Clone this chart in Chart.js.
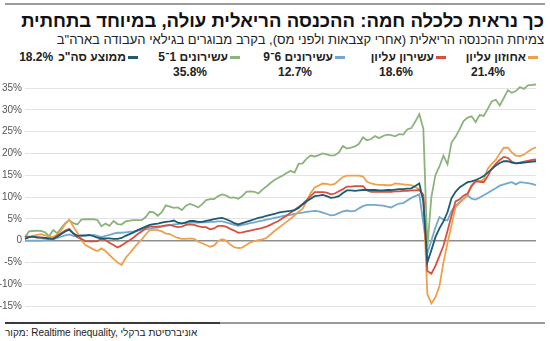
<!DOCTYPE html>
<html lang="he">
<head>
<meta charset="utf-8">
<script src="https://cdn.jsdelivr.net/npm/chart.js@4"></script>
<style>
  html, body { margin: 0; padding: 0; background: #fff; }
  body { width: 550px; height: 341px; position: relative; overflow: hidden;
         font-family: "Liberation Sans", "DejaVu Sans", sans-serif; color: #1a1a1a; }
  .rule-top { position: absolute; left: 5px; top: 3px; width: 540px; height: 2px; background: #9c9c9c; }
  .title { position: absolute; right: 6px; top: 10px; direction: rtl; white-space: nowrap;
           font-weight: bold; font-size: 18.5px; line-height: 22px; color: #111; }
  .subtitle { position: absolute; right: 6px; top: 32px; direction: rtl; white-space: nowrap;
              font-size: 13px; line-height: 16px; color: #222; }
  .lg { position: absolute; top: 50px; direction: rtl; display: flex; align-items: center;
        white-space: nowrap; font-weight: bold; font-size: 12px; line-height: 14px; color: #222; }
  .sw { width: 10px; height: 3px; margin-left: 2px; }
  .pct2 { position: absolute; direction: rtl; white-space: nowrap;
          font-weight: bold; font-size: 12px; line-height: 14px; color: #222; }
  #c { position: absolute; left: 0; top: 78px; }
  .rule-bot-a { position: absolute; left: 5px; top: 322px; width: 215px; height: 2px; background: #3a3a3a; }
  .rule-bot-b { position: absolute; left: 220px; top: 322px; width: 325px; height: 2px; background: #9a9a9a; }
  .source { position: absolute; left: 5px; top: 327px; direction: ltr; white-space: nowrap;
            font-size: 10px; line-height: 12px; color: #222; }
</style>
</head>
<body>
<div class="rule-top"></div>
<div class="title">כך נראית כלכלה חמה: ההכנסה הריאלית עולה, במיוחד בתחתית</div>
<div class="subtitle">צמיחת ההכנסה הריאלית (אחרי קצבאות ולפני מס), בקרב מבוגרים בגילאי העבודה בארה"ב</div>
<div id="legend"></div>
<canvas id="c" width="550" height="242"></canvas>
<div class="rule-bot-a"></div>
<div class="rule-bot-b"></div>
<div class="source">מקור: Realtime inequality, אוניברסיטת ברקלי</div>

<script>
// Monthly real income growth (%), relative to the start of the period
const months = Array.from({ length: 128 }, (_, i) => i + 1);

const top1 = [0.5,0.8,1.1,1.3,1.5,1.2,0.9,0.8,1.4,2.4,
  3.8,4.8,3.2,1.8,0.2,-1.0,-1.5,-2.0,-2.4,-1.8,
  -2.4,-3.3,-4.2,-5.0,-5.6,-4.0,-2.9,-1.8,-0.7,0.3,
  1.4,2.4,2.4,2.4,2.1,1.6,1.5,1.0,0.6,0.4,
  0.4,0.5,0.4,-0.2,-0.6,-1.0,-1.4,-1.1,-0.1,0.3,
  0.0,-0.9,-1.5,-1.7,-1.6,-1.0,-0.4,-0.1,0.1,0.3,
  0.6,1.4,2.2,2.9,3.6,4.3,5.0,5.8,6.6,7.3,
  9.0,10.9,12.2,12.6,13.1,13.0,12.8,13.0,13.8,14.6,
  14.9,14.9,14.9,14.9,14.7,13.5,13.1,12.9,12.8,12.8,
  12.7,12.7,13.1,13.0,12.9,12.8,12.7,12.3,11.8,10.0,
  -12.3,-14.4,-13.0,-10.5,-5.0,-0.6,3.5,7.7,8.6,9.5,
  10.5,12.7,13.8,13.6,14.0,16.5,17.6,18.5,20.0,21.3,
  21.3,20.2,19.5,19.4,19.7,20.4,21.0,21.4];

const top10 = [0.9,0.9,0.9,0.8,0.7,0.6,0.4,0.4,1.1,1.7,
  2.3,2.7,1.6,0.8,0.4,-0.1,-0.2,-0.2,-0.1,0.4,
  0.1,-0.5,-1.0,-1.6,-1.1,-0.5,0.1,0.7,1.5,2.1,
  2.9,3.2,3.2,3.2,3.3,3.5,3.6,3.3,3.1,3.2,
  3.6,3.7,3.6,3.3,3.1,3.1,2.6,2.8,3.4,3.4,
  3.2,2.7,2.3,1.8,1.9,2.1,2.3,2.5,2.7,2.9,
  3.2,3.6,4.1,4.5,5.1,5.7,6.4,7.0,7.7,8.4,
  9.3,10.2,11.1,11.1,11.1,11.0,10.6,10.8,11.3,11.8,
  12.4,12.4,12.5,12.5,12.5,11.5,11.2,11.2,11.2,11.2,
  11.2,11.2,11.3,11.3,11.4,11.4,11.5,11.5,11.6,10.5,
  -7.0,-7.6,-5.8,-3.5,-1.2,2.2,5.7,9.0,9.5,10.3,
  10.8,12.5,13.6,13.5,13.4,14.8,16.5,17.6,18.5,19.2,
  19.0,18.1,17.7,17.9,18.1,18.3,18.5,18.6];

const dec6to9 = [0.0,0.0,0.0,0.0,0.0,0.1,0.2,0.3,0.6,0.9,
  1.2,1.4,1.1,0.9,1.0,1.1,1.2,1.3,1.1,0.8,
  1.1,1.3,1.6,1.8,1.8,1.9,2.0,2.1,2.3,2.4,
  2.6,2.7,2.9,3.0,3.2,3.4,3.5,3.7,3.8,4.0,
  4.0,4.1,4.1,4.1,4.2,4.2,4.3,4.3,4.4,4.4,
  4.2,3.9,3.6,3.4,3.6,3.8,4.0,4.2,4.4,4.6,
  4.8,5.0,5.2,5.4,5.6,5.8,5.9,6.1,6.3,6.4,
  6.6,6.7,6.8,6.7,6.4,6.1,5.8,5.9,6.3,6.7,
  6.9,6.7,6.8,7.4,7.9,8.2,8.2,8.2,8.1,8.0,
  7.8,7.6,8.1,8.5,8.6,9.2,9.8,10.2,10.6,4.0,
  -2.9,0.0,3.0,5.4,4.8,4.6,6.8,8.0,8.8,9.6,
  10.4,9.6,9.4,9.9,10.4,10.9,11.5,12.0,12.6,12.9,
  13.2,13.4,12.9,13.4,13.3,13.2,13.0,12.7];

const dec1to5 = [0.8,2.1,2.2,2.3,2.2,1.9,1.0,2.4,1.7,2.9,
  4.0,4.7,4.0,3.7,4.8,4.9,4.9,4.9,4.7,3.3,
  3.9,3.4,4.5,3.8,3.7,4.4,4.6,4.7,4.7,4.7,
  5.4,6.6,6.5,5.7,6.5,8.1,7.8,7.5,7.6,7.0,
  8.0,8.4,8.1,7.6,8.3,9.3,9.5,9.5,10.2,10.6,
  10.3,9.8,9.9,9.6,10.2,11.2,11.3,11.2,10.8,11.7,
  12.4,13.2,13.9,14.4,14.9,15.5,16.0,15.6,17.6,17.7,
  18.8,19.5,19.3,19.6,20.0,19.8,19.5,19.6,20.2,21.7,
  21.1,21.3,21.6,22.2,23.7,23.0,23.3,24.0,23.5,24.0,
  24.3,24.2,23.9,24.4,24.3,25.5,25.8,27.3,29.0,25.7,
  -1.5,10.0,15.0,17.0,19.5,17.5,22.5,23.8,25.5,27.4,
  28.2,28.5,27.2,28.8,28.6,30.2,31.9,32.3,31.0,32.7,
  34.5,33.9,34.3,35.2,34.8,35.6,35.7,35.8];

const overall = [0.4,0.8,0.9,0.7,0.7,0.6,0.5,0.4,0.9,1.5,
  2.1,2.5,1.7,1.1,1.2,1.2,1.3,1.0,0.7,0.5,
  0.5,0.5,0.4,0.4,0.6,1.1,1.5,1.9,2.4,2.8,
  3.2,3.6,3.8,3.9,4.1,4.3,4.4,4.6,4.1,3.9,
  4.2,4.5,4.5,4.3,4.3,4.5,4.7,4.9,5.1,5.2,
  4.9,4.5,4.0,3.7,4.0,4.3,4.6,4.9,5.2,5.4,
  5.7,5.9,6.1,6.4,6.6,6.7,6.8,7.0,7.5,8.3,
  9.0,9.6,10.2,10.3,10.5,10.2,9.8,9.9,10.2,10.9,
  11.5,11.5,11.4,11.5,11.6,11.6,11.6,11.6,11.5,11.5,
  11.6,11.6,11.7,11.8,11.8,11.9,12.0,12.5,13.1,9.0,
  -5.0,-2.2,0.8,2.8,4.4,6.5,9.7,11.2,12.2,12.8,
  13.4,13.6,13.9,14.3,14.8,15.6,16.4,17.2,17.8,18.2,
  18.2,17.9,17.7,17.8,17.9,18.0,18.1,18.2];

const seriesNames  = ['אחוזון עליון', 'עשירון עליון', 'עשירונים 6־9', 'עשירונים 1־5', 'ממוצע סה"כ'];
const seriesValues = [top1, top10, dec6to9, dec1to5, overall];
const seriesColors = ['#eea14c', '#d7513e', '#73a8cf', '#8db37c', '#1c5b70'];
const yTicks = [-15, -10, -5, 0, 5, 10, 15, 20, 25, 30, 35];

// legend: swatch + label, latest value beneath (beside, for the average)
const legendRight = [538, 446, 345, 240, 138];
const legend = document.getElementById('legend');
seriesNames.forEach((name, i) => {
  const vals = seriesValues[i];
  const item = document.createElement('div');
  item.className = 'lg';
  item.style.right = (550 - legendRight[i]) + 'px';
  const sw = document.createElement('span');
  sw.className = 'sw';
  sw.style.background = seriesColors[i];
  const lab = document.createElement('span');
  lab.textContent = name;
  item.appendChild(sw);
  item.appendChild(lab);
  legend.appendChild(item);

  const p = document.createElement('div');
  p.className = 'pct2';
  p.textContent = vals[vals.length - 1].toFixed(1) + '%';
  legend.appendChild(p);
  if (i === seriesNames.length - 1) {
    // the average's value sits on the same line, just left of its label
    const labLeft = lab.getBoundingClientRect().left;
    p.style.right = (550 - labLeft + 5) + 'px';
    p.style.top = '50px';
  } else {
    p.style.right = (550 - legendRight[i] + 33) + 'px';
    p.style.top = '65px';
  }
});

// draw order: average on top, bottom deciles underneath
const drawOrder = [4, 1, 0, 2, 3];
const datasets = drawOrder.map(i => ({
  label: seriesNames[i],
  data: seriesValues[i],
  borderColor: seriesColors[i],
  backgroundColor: seriesColors[i],
  borderWidth: 1.8,
  pointRadius: 0,
  tension: 0,
  fill: false,
  clip: false
}));

new Chart(document.getElementById('c'), {
  type: 'line',
  data: { labels: months, datasets },
  options: {
    responsive: false,
    animation: false,
    layout: { padding: { top: 10, right: 14, bottom: 14, left: 0 } },
    plugins: { legend: { display: false }, tooltip: { enabled: false } },
    scales: {
      x: { display: false },
      y: {
        min: yTicks[0],
        max: yTicks[yTicks.length - 1],
        afterFit(scale) { scale.width = 25; },
        afterBuildTicks(scale) { scale.ticks = yTicks.map(v => ({ value: v })); },
        border: { display: false },
        grid: {
          drawTicks: false,
          color: c => (c.tick && c.tick.value === 0) ? '#8d8d8d' : '#e3e3e3',
          lineWidth: c => (c.tick && c.tick.value === 0) ? 1.6 : 1
        },
        ticks: {
          padding: 3,
          color: '#555',
          font: { family: '"Liberation Sans Narrow", "Liberation Sans", sans-serif', size: 10 },
          callback: v => v === 0 ? '0' : v + '%'
        }
      }
    }
  }
});
</script>
</body>
</html>
